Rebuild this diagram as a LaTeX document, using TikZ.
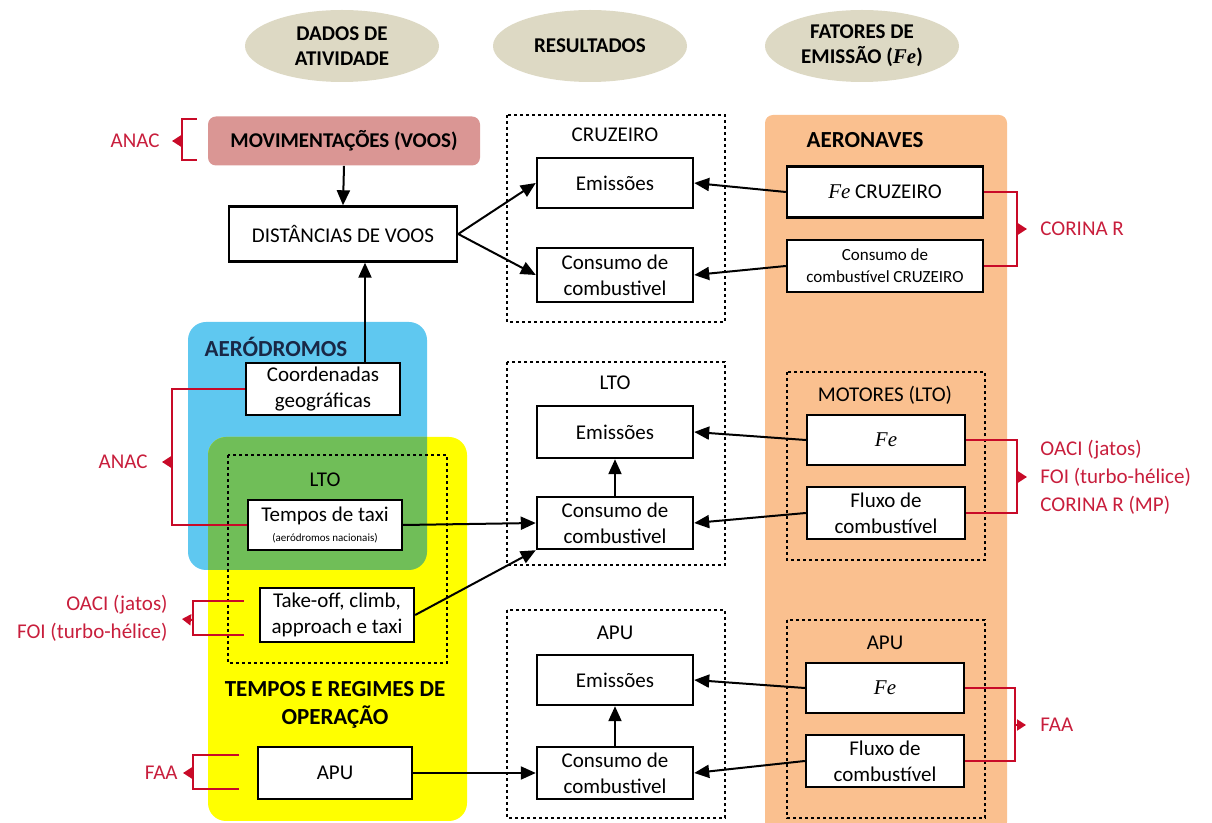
\documentclass[tikz,border=0pt]{standalone}
\usepackage{fontspec}
\setmainfont{Carlito}
\newfontfamily\serifit{Liberation Serif}
\usetikzlibrary{arrows.meta,positioning,shapes.geometric}
\definecolor{hdrbeige}{RGB}{221,217,196}
\definecolor{movred}{RGB}{218,150,148}
\definecolor{aerblue}{RGB}{95,200,240}
\definecolor{ltogreen}{RGB}{112,190,88}
\definecolor{opyellow}{RGB}{255,255,0}
\definecolor{acorange}{RGB}{250,192,143}
\definecolor{srcred}{RGB}{200,10,40}
\definecolor{srctext}{RGB}{200,30,60}
\definecolor{titlenavy}{RGB}{25,40,70}
\newcommand{\fesym}{{\serifit\itshape Fe}}
\tikzset{
    % Column header ellipses
    hdr/.style={
        ellipse, fill=hdrbeige, inner sep=0pt,
        minimum width=97pt, minimum height=36pt,
        align=center, font=\fontsize{10.5}{12.5}\selectfont\bfseries
    },
    % Plain white boxes
    box/.style={
        rectangle, draw=black, line width=1.2pt, fill=white,
        inner sep=1pt, align=center,
        font=\fontsize{10.5}{13}\selectfont
    },
    resbox/.style={box, minimum width=78pt, minimum height=26pt},
    leftbox/.style={box, minimum width=77pt, minimum height=26pt},
    rightbox/.style={box, minimum width=79pt, minimum height=26pt},
    widebox/.style={box, minimum width=98pt, minimum height=25.5pt},
    % Coloured movement box
    movbox/.style={
        rectangle, fill=movred, rounded corners=4pt,
        minimum width=136pt, minimum height=24.5pt,
        font=\fontsize{10.5}{12.5}\selectfont\bfseries
    },
    % Dotted group frames
    groupframe/.style={
        draw=black, line width=1.3pt, dash pattern=on 1.3pt off 1.7pt
    },
    grptitle/.style={font=\fontsize{10.5}{12.5}\selectfont, inner sep=1pt},
    regtitle/.style={
        font=\fontsize{11.5}{14}\selectfont\bfseries,
        align=center, inner sep=1pt
    },
    % Source labels and brackets
    srclabel/.style={
        text=srctext, inner sep=1pt,
        font=\fontsize{10.5}{14}\selectfont
    },
    bracket/.style={draw=srcred, line width=1pt},
    srctip/.style={-{Triangle[length=4.5pt,width=5.5pt]}, draw=srcred, fill=srcred, line width=1pt},
    % Flow arrows
    flow/.style={-{Triangle[length=7.5pt,width=6.5pt]}, line width=1pt}
}
\begin{document}
\begin{tikzpicture}[x=0.5pt,y=-0.5pt]
\useasboundingbox (0,0) rectangle (1212,823);

% Column headers
\node[hdr] (hdrdados) at (342,46) {DADOS DE\\ATIVIDADE};
\node[hdr] (hdrres) at (590,46) {RESULTADOS};
\node[hdr] (hdrfat) at (862,46) {FATORES DE\\EMISSÃO (\fesym)};

% Coloured regions
\fill[acorange, rounded corners=4pt] (765,115) rectangle (1007,830);
\fill[aerblue, rounded corners=9pt] (188,322) rectangle (427,570);
\fill[opyellow, rounded corners=9pt] (208,437) rectangle (467,821);
\begin{scope}
\clip[rounded corners=9pt] (188,322) rectangle (427,570);
\fill[ltogreen, rounded corners=9pt] (208,437) rectangle (467,821);
\end{scope}

% Dotted group frames
\draw[groupframe] (507,115) rectangle (725,322);
\draw[groupframe] (507,362) rectangle (725,565);
\draw[groupframe] (507,610) rectangle (725,818);
\draw[groupframe] (228,455) rectangle (447,663);
\draw[groupframe] (787,372) rectangle (985,560);
\draw[groupframe] (787,620) rectangle (985,818);

% Activity data
\node[movbox] (mov) at (344,141) {MOVIMENTAÇÕES (VOOS)};
\node[box, minimum width=114pt, minimum height=27.5pt] (dist) at (343,234) {DISTÂNCIAS DE VOOS};
\node[regtitle, text=titlenavy] (ttaero) at (276,347) {AERÓDROMOS};
\node[leftbox] (coord) at (323,389) {Coordenadas\\geográficas};
\node[grptitle] (ttltoin) at (325,480) {LTO};
\node[leftbox, minimum height=25pt] (taxi) at (325,525) {Tempos de taxi\\[-3pt]{\fontsize{5.5}{6}\selectfont (aeródromos nacionais)}};
\node[leftbox, minimum height=27pt] (takeoff) at (337,615) {Take-off, climb,\\approach e taxi};
\node[regtitle] (tttempos) at (335,705) {TEMPOS E REGIMES DE\\OPERAÇÃO};
\node[leftbox] (apuin) at (335,773) {APU};

% Results
\node[grptitle] (ttcru) at (615,135) {CRUZEIRO};
\node[resbox, minimum height=25pt] (emcru) at (615,183) {Emissões};
\node[resbox, minimum height=27pt] (concru) at (615,275) {Consumo de\\combustivel};
\node[grptitle] (ttlto) at (615,383) {LTO};
\node[resbox] (emlto) at (615,432) {Emissões};
\node[resbox] (conlto) at (615,523) {Consumo de\\combustivel};
\node[grptitle] (ttapu) at (615,633) {APU};
\node[resbox, minimum height=25pt] (emapu) at (615,680) {Emissões};
\node[resbox] (conapu) at (615,773) {Consumo de\\combustivel};

% Emission factors
\node[regtitle] (ttaer) at (865,140) {AERONAVES};
\node[widebox] (fecru) at (885,192) {\fesym\ CRUZEIRO};
\node[widebox, minimum height=26pt, font=\fontsize{8.5}{11}\selectfont] (concrufe) at (885,266) {Consumo de\\combustível CRUZEIRO};
\node[grptitle] (ttmot) at (885,395) {MOTORES (LTO)};
\node[rightbox, minimum height=25pt] (felto) at (886,440) {\fesym};
\node[rightbox] (fluxlto) at (886,513) {Fluxo de\\combustível};
\node[grptitle] (ttapufe) at (885,643) {APU};
\node[rightbox, minimum height=25pt] (feapu) at (885,688) {\fesym};
\node[rightbox] (fluxapu) at (885,761) {Fluxo de\\combustível};

% Flows
\draw[flow] (mov.south) -- (dist.north);
\draw[flow] ([xshift=21pt]coord.north) -- ([xshift=21pt]coord.north |- dist.south);
\draw[flow] (dist.east) -- (emcru.west);
\draw[flow] (dist.east) -- (concru.west);
\draw[flow] (fecru.west) -- (emcru.east);
\draw[flow] (concrufe.west) -- (concru.east);
\draw[flow] (taxi.east) -- (conlto.west);
\draw[flow] (takeoff.east) -- (conlto.south west);
\draw[flow] (conlto.north) -- (emlto.south);
\draw[flow] (felto.west) -- (emlto.east);
\draw[flow] (fluxlto.west) -- (conlto.east);
\draw[flow] (apuin.east) -- (conapu.west);
\draw[flow] (conapu.north) -- (emapu.south);
\draw[flow] (feapu.west) -- (emapu.east);
\draw[flow] (fluxapu.west) -- (conapu.east);

% Sources (left)
\node[srclabel, anchor=east] (anactop) at (162,141) {ANAC};
\coordinate (brmov) at (182,141);
\draw[bracket] ([xshift=-5.5pt,yshift=-1.5pt]mov.north west) -| (brmov) |- ([xshift=-5.5pt,yshift=3pt]mov.south west);
\draw[srctip, shorten >=5pt] (brmov) -- (anactop.east);

\node[srclabel, anchor=east] (anacmid) at (150,462) {ANAC};
\coordinate (braer) at (172,462);
\draw[bracket] (coord.west) -| (braer) |- (taxi.west);
\draw[srctip, shorten >=6pt] (braer) -- (anacmid.east);

\node[srclabel, anchor=east, align=right] (oacileft) at (170,618) {OACI (jatos)\\FOI (turbo-hélice)};
\coordinate (brtko) at (193,620);
\draw[bracket] ([xshift=-7.5pt,yshift=7pt]takeoff.west) -| (brtko) |- ([xshift=-7.5pt,yshift=-10pt]takeoff.west);
\draw[srctip, shorten >=6pt] (brtko) -- (oacileft.east);

\node[srclabel, anchor=east] (faaleft) at (180,773) {FAA};
\coordinate (brapu) at (193,773);
\draw[bracket] ([xshift=-9pt,yshift=9pt]apuin.west) -| (brapu) |- ([xshift=-9pt,yshift=-8pt]apuin.west);
\draw[srctip, shorten >=1.5pt] (brapu) -- (faaleft.east);

% Sources (right)
\node[srclabel, anchor=west] (corina) at (1038,229) {CORINA R};
\coordinate (brcor) at (1017,229);
\draw[bracket] (fecru.east) -| (brcor) |- (concrufe.east);
\draw[srctip, shorten >=5.5pt] (brcor) -- (corina.west);

\node[srclabel, anchor=west, align=left] (oaciright) at (1038,477) {OACI (jatos)\\FOI (turbo-hélice)\\CORINA R (MP)};
\coordinate (brmot) at (1017,477);
\draw[bracket] (felto.east) -| (brmot) |- (fluxlto.east);
\draw[srctip, shorten >=5.5pt] (brmot) -- (oaciright.west);

\node[srclabel, anchor=west] (faaright) at (1038,725) {FAA};
\coordinate (brapufe) at (1015,725);
\draw[bracket] (feapu.east) -| (brapufe) |- (fluxapu.east);
\draw[srctip, shorten >=6pt] (brapufe) -- (faaright.west);

\end{tikzpicture}
\end{document}
